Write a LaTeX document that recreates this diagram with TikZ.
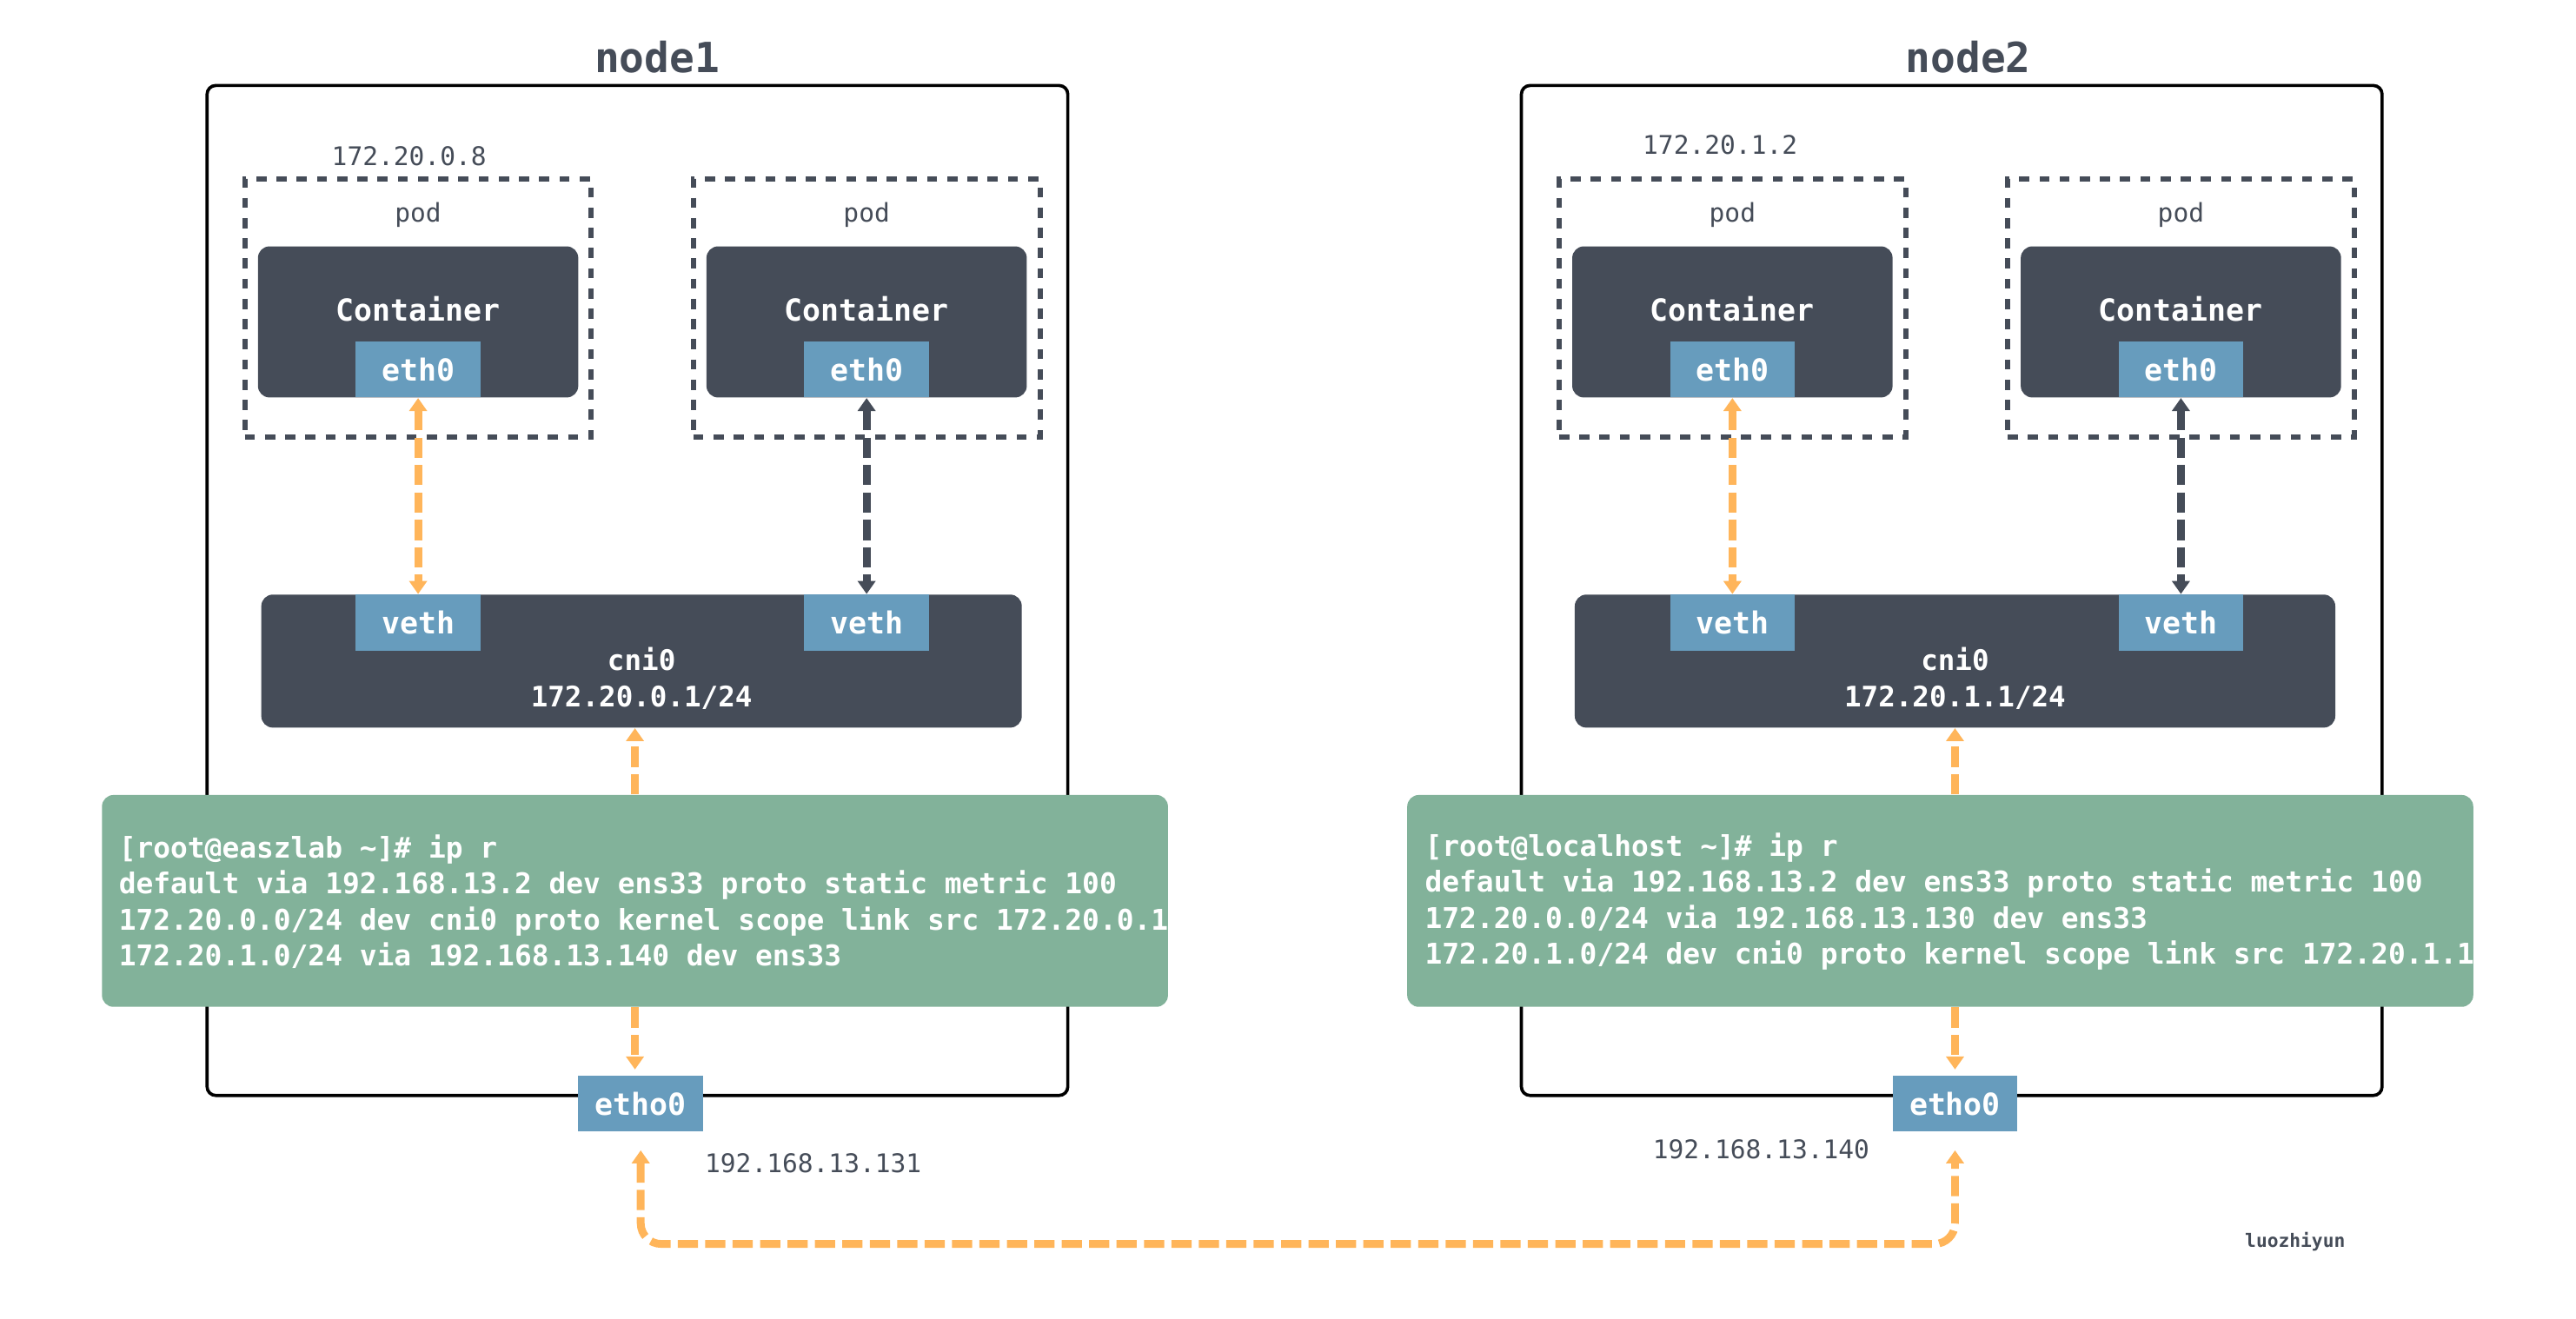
\documentclass[tikz,border=0pt]{standalone}
\usepackage{fontspec}
\setmainfont{DejaVu Sans Mono}
\usetikzlibrary{arrows.meta,positioning}
\definecolor{slate}{RGB}{69,76,88}
\definecolor{ifblue}{RGB}{103,156,189}
\definecolor{routegreen}{RGB}{130,178,154}
\definecolor{linkorange}{RGB}{255,181,90}

\begin{document}
\begin{tikzpicture}
      [x = 0.02cm, y = -0.02cm,
      > = {Triangle[width = 6pt, length = 4.5pt]},
      hostbox/.style= {
         draw = black,
         line width = 1.1pt,
         rounded corners = 3pt,
         minimum width = 10.48cm,
         minimum height = 12.3cm
      },
      podbox/.style= {
         draw = slate,
         line width = 1.8pt,
         dash pattern = on 3.5pt off 3.5pt,
         minimum width = 4.22cm,
         minimum height = 3.14cm
      },
      ctrbox/.style= {
         fill = slate,
         rounded corners = 4pt,
         minimum width = 3.9cm,
         minimum height = 1.84cm
      },
      bridge/.style= {
         fill = slate,
         rounded corners = 4pt,
         minimum width = 9.26cm,
         minimum height = 1.62cm
      },
      ifbox/.style= {
         fill = ifblue,
         text = white,
         inner sep = 0pt,
         minimum width = 1.52cm,
         minimum height = 0.68cm,
         font = \fontsize{10.5}{12}\selectfont\bfseries
      },
      routes/.style= {
         fill = routegreen,
         rounded corners = 4pt,
         minimum width = 12.98cm,
         minimum height = 2.58cm
      },
      routetext/.style= {
         text = white,
         align = left,
         anchor = west,
         inner sep = 0pt,
         font = \fontsize{9.9}{12.5}\selectfont\bfseries
      },
      whitetext/.style= {text = white, inner sep = 0pt,
         font = \fontsize{10.5}{12}\selectfont\bfseries},
      greytext/.style= {text = slate, inner sep = 0pt,
         font = \fontsize{8.9}{11}\selectfont},
      title/.style= {text = slate, inner sep = 0pt,
         font = \fontsize{14.4}{16}\selectfont\bfseries},
      link/.style= {draw = linkorange, line width = 2.7pt,
         dash pattern = on 7pt off 2.5pt},
      darklink/.style= {draw = slate, line width = 2.7pt,
         dash pattern = on 7pt off 2.5pt}]

      \useasboundingbox (0, 0) rectangle (1568, 803);

      % node1
      \node[title] (title1) at (400, 35) {node1};
      \node[hostbox] (host1) at (388, 359.5) {};
      \node[greytext] (ip1a) at (249, 95) {172.20.0.8};

      \node[podbox] (pod1a) at (254.5, 187.5) {};
      \node[podbox] (pod1b) at (527.5, 187.5) {};
      \node[greytext] (podlabel1a) at (254.5, 131) {pod};
      \node[greytext] (podlabel1b) at (527.5, 131) {pod};

      \node[ctrbox] (ctr1a) at (254.5, 196) {};
      \node[ctrbox] (ctr1b) at (527.5, 196) {};
      \node[whitetext, yshift = 0.16cm] (ctrlabel1a) at (ctr1a) {Container};
      \node[whitetext, yshift = 0.16cm] (ctrlabel1b) at (ctr1b) {Container};
      \node[ifbox, above = 0pt of ctr1a.south] (eth1a) {eth0};
      \node[ifbox, above = 0pt of ctr1b.south] (eth1b) {eth0};

      \node[bridge] (cni1) at (390.5, 402.5) {};
      \node[ifbox, anchor = north] (veth1a) at (eth1a |- cni1.north) {veth};
      \node[ifbox, anchor = north] (veth1b) at (eth1b |- cni1.north) {veth};
      \node[whitetext, align = center, font = \fontsize{9.8}{12.5}\selectfont\bfseries]
         (cnilabel1) at (390.5, 413) {cni0\\172.20.0.1/24};

      \node[routes] (rt1) at (386.5, 548.5) {};
      \node[routetext] (rttext1) at (72, 549)
         {[root@easzlab \textasciitilde]\# ip r\\
          default via 192.168.13.2 dev ens33 proto static metric 100\\
          172.20.0.0/24 dev cni0 proto kernel scope link src 172.20.0.1\\
          172.20.1.0/24 via 192.168.13.140 dev ens33};

      \node[ifbox] (etho1) at (390, 672) {etho0};
      \node[greytext] (hostip1) at (495, 708) {192.168.13.131};

      % node2
      \node[title] (title2) at (1198, 35) {node2};
      \node[hostbox] (host2) at (1188, 359.5) {};
      \node[greytext] (ip2a) at (1047, 88) {172.20.1.2};

      \node[podbox] (pod2a) at (1054.5, 187.5) {};
      \node[podbox] (pod2b) at (1327.5, 187.5) {};
      \node[greytext] (podlabel2a) at (1054.5, 131) {pod};
      \node[greytext] (podlabel2b) at (1327.5, 131) {pod};

      \node[ctrbox] (ctr2a) at (1054.5, 196) {};
      \node[ctrbox] (ctr2b) at (1327.5, 196) {};
      \node[whitetext, yshift = 0.16cm] (ctrlabel2a) at (ctr2a) {Container};
      \node[whitetext, yshift = 0.16cm] (ctrlabel2b) at (ctr2b) {Container};
      \node[ifbox, above = 0pt of ctr2a.south] (eth2a) {eth0};
      \node[ifbox, above = 0pt of ctr2b.south] (eth2b) {eth0};

      \node[bridge] (cni2) at (1190, 402.5) {};
      \node[ifbox, anchor = north] (veth2a) at (eth2a |- cni2.north) {veth};
      \node[ifbox, anchor = north] (veth2b) at (eth2b |- cni2.north) {veth};
      \node[whitetext, align = center, font = \fontsize{9.8}{12.5}\selectfont\bfseries]
         (cnilabel2) at (1190, 413) {cni0\\172.20.1.1/24};

      \node[routes] (rt2) at (1181, 548.5) {};
      \node[routetext] (rttext2) at (867, 549)
         {[root@localhost \textasciitilde]\# ip r\\
          default via 192.168.13.2 dev ens33 proto static metric 100\\
          172.20.0.0/24 via 192.168.13.130 dev ens33\\
          172.20.1.0/24 dev cni0 proto kernel scope link src 172.20.1.1};

      \node[ifbox] (etho2) at (1190, 672) {etho0};
      \node[greytext] (hostip2) at (1072, 700) {192.168.13.140};

      \node[greytext, font = \fontsize{6.4}{8}\selectfont\bfseries] (sign) at (1397, 756) {luozhiyun};

      % links
      \draw[link, <->] (eth1a.south) -- (veth1a.north);
      \draw[darklink, <->] (eth1b.south) -- (veth1b.north);
      \draw[link, ->] (rt1.north) -- (rt1.north |- cni1.south);
      \draw[link, ->, shorten >= 2pt] (rt1.south) -- (rt1.south |- etho1.north);

      \draw[link, <->] (eth2a.south) -- (veth2a.north);
      \draw[darklink, <->] (eth2b.south) -- (veth2b.north);
      \draw[link, ->] (cni2.south |- rt2.north) -- (cni2.south);
      \draw[link, ->, shorten >= 2pt] (etho2.north |- rt2.south) -- (etho2.north);

      \draw[link, <->, rounded corners = 0.25cm]
         ([yshift = -0.22cm]etho1.south) -- ++(0, 57) -| ([yshift = -0.22cm]etho2.south);

   \end{tikzpicture}
\end{document}
